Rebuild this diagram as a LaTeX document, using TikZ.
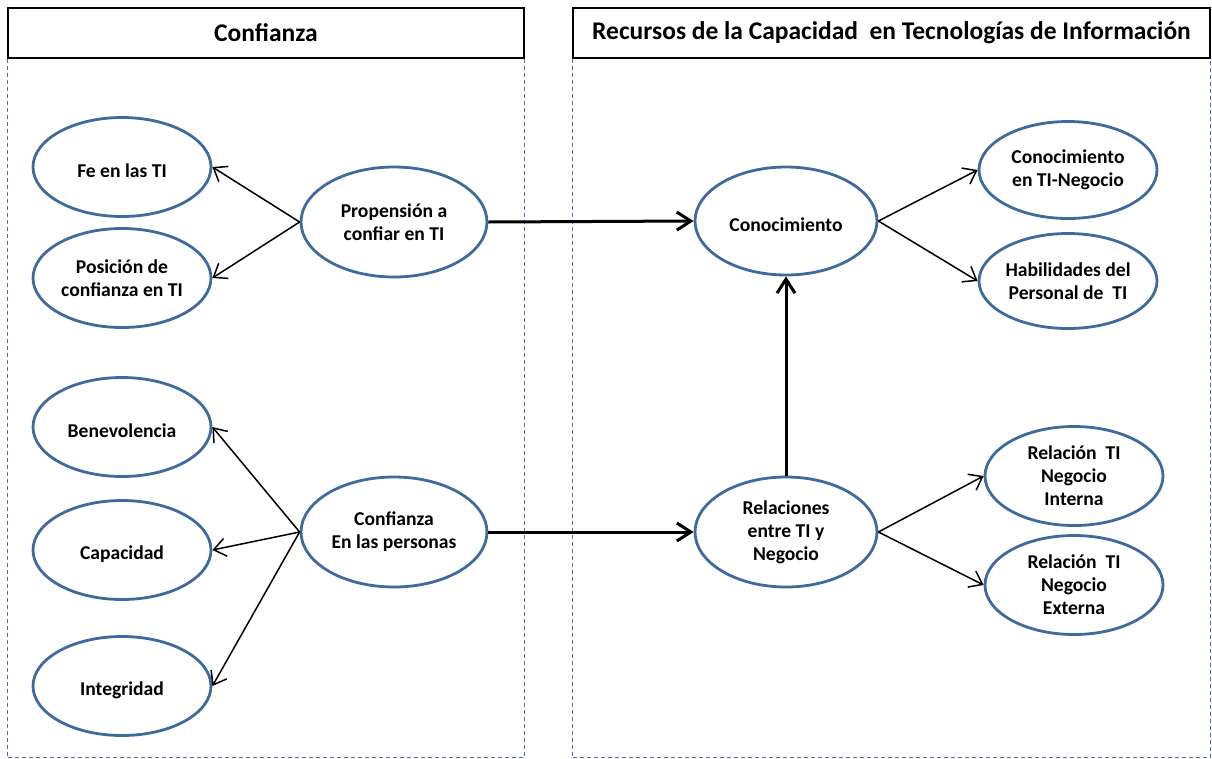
\documentclass[tikz,border=0pt]{standalone}
\usepackage{fontspec}
\setmainfont{Carlito}
\usetikzlibrary{shapes.geometric,arrows.meta}
\definecolor{ovalblue}{HTML}{3F6A9E}
\definecolor{laneblue}{HTML}{4F6FA0}

\begin{document}
\begin{tikzpicture}[x=1pt,y=-1pt,
  % a tall invisible rule on the first line sets the text a little below centre
  oval/.style={ellipse, draw=ovalblue, line width=2.8pt, fill=white,
    minimum width=178pt, minimum height=99pt, inner sep=0pt, align=center,
    font=\fontsize{19.6}{23}\selectfont\bfseries,
    execute at begin node={\rule{0pt}{21.5pt}}},
  bigoval/.style={oval, minimum width=186pt, minimum height=110pt},
  header/.style={draw=black, line width=1.2pt, fill=white, minimum height=50pt,
    inner sep=0pt, font=\fontsize{25.5}{30}\selectfont\bfseries},
  lane/.style={draw=laneblue, line width=0.9pt, dash pattern=on 4pt off 3pt},
  thin/.style={line width=1.5pt, -{Straight Barb[length=12pt,width=18pt]}},
  thick/.style={line width=3pt, -{Straight Barb[length=14pt,width=18pt]}}
]
\useasboundingbox (0,0) rectangle (1212,758);

% column headers
\node[header, minimum width=516pt] (hL) at (266,33) {Confianza};
\node[header, minimum width=637pt] (hR) at (891.5,33)
  {Recursos de la Capacidad\ \ en Tecnologías de Información};

% dashed columns below the headers
\draw[lane] (hL.south west) -- ++(0,699) -| (hL.south east);
\draw[lane] (hR.south west) -- ++(0,699) -| (hR.south east);

% trust constructs
\node[oval] (fe)   at (122,167) {Fe en las TI};
\node[oval] (pos)  at (122,278) {Posición de\\confianza en TI};
\node[bigoval] (prop) at (394,222) {Propensión a\\confiar en TI};

\node[oval] (ben)  at (122,427) {Benevolencia};
\node[oval] (cap)  at (122,550) {Capacidad};
\node[oval] (int)  at (122,686) {Integridad};
\node[bigoval] (conf) at (394,532) {Confianza\\En las personas};

% IT capability resources
\node[bigoval, minimum width=182pt, minimum height=108pt] (con) at (786,221) {Conocimiento};
\node[bigoval, minimum width=182pt, minimum height=110pt] (rel) at (786,532) {Relaciones\\entre TI y\\Negocio};

\node[oval, minimum height=97pt] (cti) at (1068,170) {Conocimiento\\en TI-Negocio};
\node[oval, minimum height=95pt] (hab) at (1068,281) {Habilidades del\\Personal de\ \ TI};
\node[oval] (rin) at (1074,476) {Relación\ \ TI\\Negocio\\Interna};
\node[oval] (rex) at (1074,585) {Relación\ \ TI\\Negocio\\Externa};

% connectors
\draw[thin] (prop.west) -- (fe.east);
\draw[thin] (prop.west) -- (pos.east);
\draw[thin] (conf.west) -- (ben.east);
\draw[thin] (conf.west) -- (cap.east);
\draw[thin] (conf.west) -- (int.east);

\draw[thick] (prop.east) -- (con.west);
\draw[thick] (conf.east) -- (rel.west);
\draw[thick] (rel.north) -- (con.south);

\draw[thin] (con.east) -- (cti.west);
\draw[thin] (con.east) -- (hab.west);
\draw[thin] (rel.east) -- (rin.west);
\draw[thin] (rel.east) -- (rex.west);
\end{tikzpicture}
\end{document}
